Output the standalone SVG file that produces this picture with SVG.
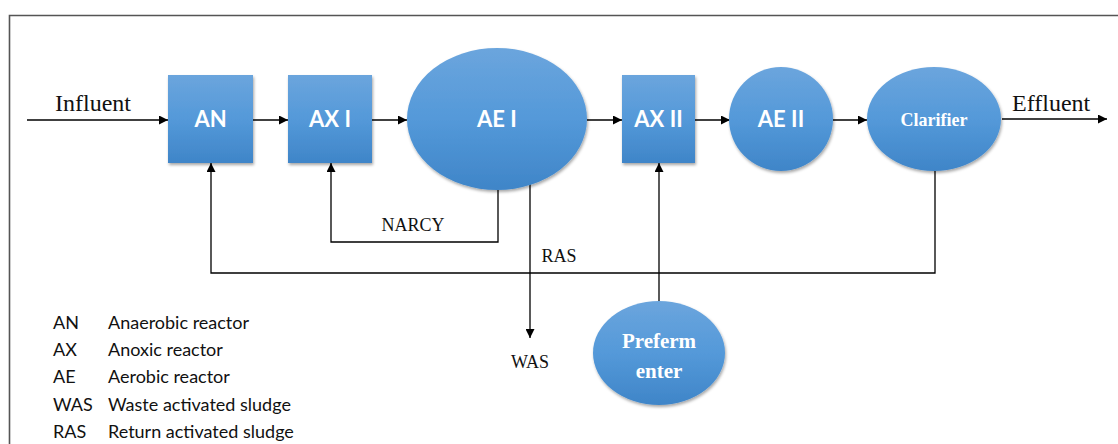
<svg xmlns="http://www.w3.org/2000/svg" width="1118" height="444" viewBox="0 0 1118 444">
<defs>
<linearGradient id="blue" x1="0" y1="0" x2="0" y2="1">
<stop offset="0" stop-color="#6ba5dd"/>
<stop offset="0.5" stop-color="#5499d9"/>
<stop offset="1" stop-color="#3f85c8"/>
</linearGradient>
<filter id="sh" x="-20%" y="-20%" width="140%" height="150%">
<feDropShadow dx="1" dy="2" stdDeviation="1.5" flood-color="#000" flood-opacity="0.35"/>
</filter>
<marker id="ah" viewBox="0 0 10 10" refX="10" refY="5" markerWidth="9" markerHeight="9" markerUnits="userSpaceOnUse" orient="auto">
<path d="M0,0 L10,5 L0,10 z" fill="#000"/>
</marker>
</defs>
<style>
.node{fill:url(#blue);filter:url(#sh)}
.lbl{font-family:Lato,"Liberation Sans",sans-serif;font-weight:bold;font-size:22px;fill:#fff;text-anchor:middle}
.tl{font-family:"Liberation Serif",serif;fill:#fff;text-anchor:middle}
.line{fill:none;stroke:#000;stroke-width:1.3}
.arr{marker-end:url(#ah)}
.tx{font-family:"Liberation Serif",serif;fill:#111}
.lg{font-family:Lato,"Liberation Sans",sans-serif;font-size:18px;fill:#111}
</style>
<rect width="1118" height="444" fill="#fff"/>
<path d="M9.5,460 V15.5 H1130" fill="none" stroke="#555" stroke-width="1.6"/>

<g id="connectors">
<line class="line arr" x1="27" y1="120" x2="168" y2="120"/>
<line class="line arr" x1="253" y1="120" x2="288" y2="120"/>
<line class="line arr" x1="372" y1="120" x2="407" y2="120"/>
<line class="line arr" x1="587" y1="120" x2="622" y2="120"/>
<line class="line arr" x1="695" y1="120" x2="730" y2="120"/>
<line class="line arr" x1="833" y1="120" x2="867" y2="120"/>
<line class="line arr" x1="1002" y1="119" x2="1107" y2="119"/>
<polyline class="line arr" points="498,190 498,242 331,242 331,163"/>
<line class="line arr" x1="530" y1="182" x2="530" y2="338"/>
<polyline class="line arr" points="935,171 935,273 211,273 211,163" stroke="#444"/>
<line class="line arr" x1="659" y1="301" x2="659" y2="163"/>
</g>

<g id="AN"><rect class="node" x="168" y="75" width="85" height="88"/><text class="lbl" x="210.5" y="127">AN</text></g>
<g id="AXI"><rect class="node" x="288" y="75" width="84" height="88"/><text class="lbl" x="330" y="127">AX I</text></g>
<g id="AEI"><ellipse class="node" cx="497" cy="119" rx="90" ry="71"/><text class="lbl" x="497" y="127">AE I</text></g>
<g id="AXII"><rect class="node" x="622" y="75" width="73" height="88"/><text class="lbl" x="658.5" y="127">AX II</text></g>
<g id="AEII"><ellipse class="node" cx="781" cy="119" rx="52" ry="52"/><text class="lbl" x="781" y="127">AE II</text></g>
<g id="Clarifier"><ellipse class="node" cx="934" cy="119" rx="67" ry="52"/><text class="tl" x="934" y="126" font-size="18" font-weight="bold">Clarifier</text></g>
<g id="Prefermenter"><ellipse class="node" cx="659" cy="353" rx="66" ry="52"/><text class="tl" x="659" y="348" font-size="21" font-weight="bold">Preferm</text><text class="tl" x="659" y="378" font-size="21" font-weight="bold">enter</text></g>

<text class="tx" x="55" y="111" font-size="24">Influent</text>
<text class="tx" x="1012" y="111" font-size="24">Effluent</text>
<text class="tx" x="413" y="231" font-size="18" text-anchor="middle">NARCY</text>
<text class="tx" x="559" y="262" font-size="18" text-anchor="middle">RAS</text>
<text class="tx" x="530" y="368" font-size="18" text-anchor="middle">WAS</text>

<g id="legend">
<text class="lg" x="53" y="329">AN</text><text class="lg" x="108" y="329">Anaerobic reactor</text>
<text class="lg" x="53" y="356">AX</text><text class="lg" x="108" y="356">Anoxic reactor</text>
<text class="lg" x="53" y="383">AE</text><text class="lg" x="108" y="383">Aerobic reactor</text>
<text class="lg" x="53" y="411">WAS</text><text class="lg" x="108" y="411">Waste activated sludge</text>
<text class="lg" x="53" y="438">RAS</text><text class="lg" x="108" y="438">Return activated sludge</text>
</g>
</svg>
